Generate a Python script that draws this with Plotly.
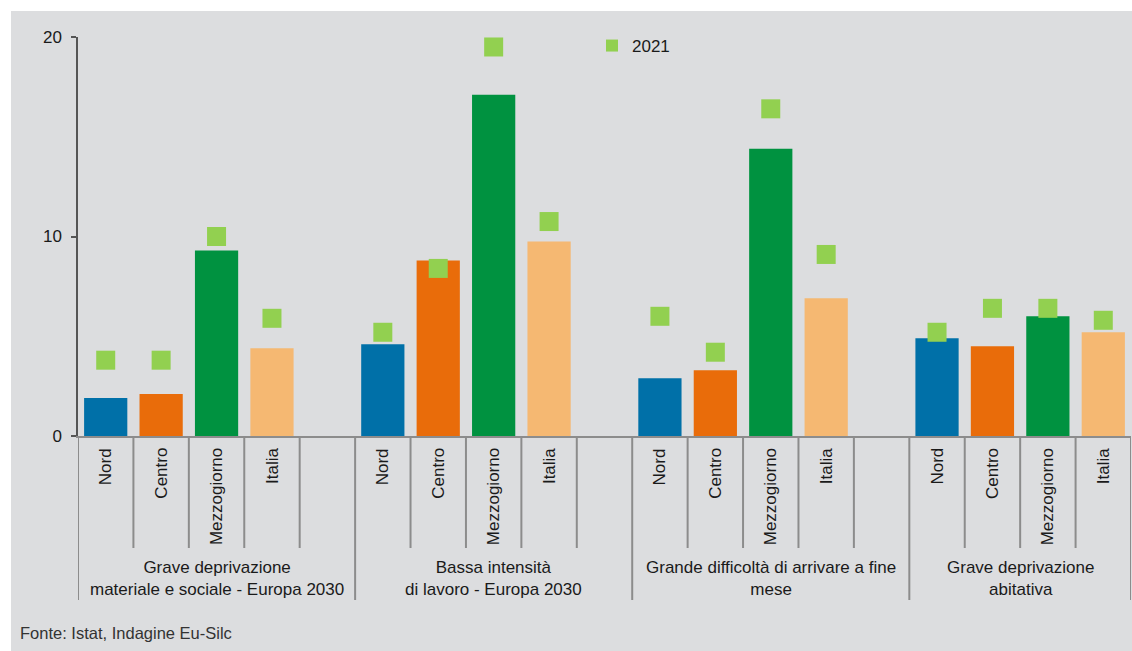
import plotly.graph_objects as go

# ---- data ----
groups = [
    "Grave deprivazione<br>materiale e sociale - Europa 2030",
    "Bassa intensità<br>di lavoro - Europa 2030",
    "Grande difficoltà di arrivare a fine<br>mese",
    "Grave deprivazione<br>abitativa",
]
regions = ["Nord", "Centro", "Mezzogiorno", "Italia"]
region_colors = ["#0070a8", "#e96c0a", "#009240", "#f5b872"]

# 2022 (bars) per group, order of regions
nord_2022 = [1.9, 4.6, 2.9, 4.9]
centro_2022 = [2.1, 8.8, 3.3, 4.5]
mezzogiorno_2022 = [9.3, 17.1, 14.4, 6.0]
italia_2022 = [4.4, 9.75, 6.9, 5.2]

# 2021 (markers)
nord_2021 = [3.8, 5.2, 6.0, 5.2]
centro_2021 = [3.8, 8.4, 4.2, 6.4]
mezzogiorno_2021 = [10.0, 19.5, 16.4, 6.4]
italia_2021 = [5.9, 10.75, 9.1, 5.8]

y_ticks = [0, 10, 20]

bars_by_region = [nord_2022, centro_2022, mezzogiorno_2022, italia_2022]
marks_by_region = [nord_2021, centro_2021, mezzogiorno_2021, italia_2021]

# ---- geometry (body margin removed via post_script) ----
PAGE_W, PAGE_H = 1132, 651
W, H = PAGE_W, PAGE_H
PLOT_L, PLOT_R, PLOT_T, PLOT_B = 78, 1131, 37, 436  # in page pixels
ML = PLOT_L
MT = PLOT_T
MR = W - PLOT_R
MB = H - PLOT_B
PW = W - ML - MR
PH = H - MT - MB
SLOTS = 5
n_groups = len(groups)
n_slots_total = SLOTS * (n_groups - 1) + len(regions)


def px_to_paper_x(px):
    return (px - PLOT_L) / PW


def px_to_paper_y(py):
    return (PLOT_B - py) / PH


def pos(g, i):
    return g * SLOTS + i


fig = go.Figure()

for ri, reg in enumerate(regions):
    fig.add_trace(go.Bar(
        x=[pos(g, ri) for g in range(n_groups)],
        y=bars_by_region[ri],
        width=0.78,
        marker=dict(color=region_colors[ri], line=dict(width=0)),
        name=reg,
        showlegend=False,
    ))

mx, my = [], []
for g in range(n_groups):
    for ri in range(len(regions)):
        mx.append(pos(g, ri))
        my.append(marks_by_region[ri][g])
fig.add_trace(go.Scatter(
    x=mx, y=my, mode="markers", name="2021",
    marker=dict(symbol="square", size=19, color="#92d050", line=dict(width=0)),
))

shapes = []
# gray background panel
shapes.append(dict(type="rect", xref="paper", yref="paper",
                   x0=px_to_paper_x(11), x1=px_to_paper_x(PAGE_W + 5),
                   y0=px_to_paper_y(PAGE_H + 5), y1=px_to_paper_y(11),
                   fillcolor="#dcdddf", line=dict(width=0), layer="below"))

div_color = "#8c8c8c"
inner_bottom = px_to_paper_y(548)
group_bottom = px_to_paper_y(600)
for k in range(n_slots_total + 1):
    xk = k - 0.5
    is_group = (k % SLOTS == 0) or (k == n_slots_total)
    shapes.append(dict(type="line", xref="x", yref="paper",
                       x0=xk, x1=xk, y0=0,
                       y1=group_bottom if is_group else inner_bottom,
                       line=dict(color=div_color, width=2)))

annotations = []
txt_color = "#1a1a1a"
font_family = "Liberation Sans, Arial, sans-serif"
for g in range(n_groups):
    for ri, reg in enumerate(regions):
        annotations.append(dict(
            x=pos(g, ri), y=0, xref="x", yref="paper",
            yshift=-10, text=reg, textangle=-90,
            xanchor="center", yanchor="top", showarrow=False,
            font=dict(size=17, color=txt_color, family=font_family)))
    last = SLOTS - 1 if g < n_groups - 1 else len(regions) - 1
    center = (pos(g, 0) - 0.5 + pos(g, last) + 0.5) / 2
    annotations.append(dict(
        x=center, y=px_to_paper_y(578), xref="x", yref="paper",
        text=groups[g], xanchor="center", yanchor="middle", showarrow=False,
        font=dict(size=17, color=txt_color, family=font_family)))

annotations.append(dict(
    x=px_to_paper_x(18), y=px_to_paper_y(633), xref="paper", yref="paper",
    text="Fonte: Istat, Indagine Eu-Silc", xanchor="left", yanchor="middle",
    showarrow=False, font=dict(size=16.5, color="#333333", family=font_family)))

fig.update_layout(
    width=W, height=H,
    margin=dict(l=ML, r=MR, t=MT, b=MB, pad=0),
    paper_bgcolor="white",
    plot_bgcolor="rgba(0,0,0,0)",
    barmode="overlay",
    font=dict(family=font_family, size=17, color=txt_color),
    shapes=shapes,
    annotations=annotations,
    showlegend=True,
    legend=dict(x=px_to_paper_x(592), y=px_to_paper_y(46), xanchor="left",
                yanchor="middle", bgcolor="rgba(0,0,0,0)", itemsizing="constant",
                font=dict(size=17, color=txt_color, family=font_family)),
    xaxis=dict(range=[-0.5, n_slots_total - 0.5], showticklabels=False,
               showgrid=False, zeroline=False, showline=True,
               linecolor=div_color, linewidth=2, ticks=""),
    yaxis=dict(range=[0, 20], tickvals=y_ticks, showgrid=False, zeroline=False,
               showline=True, linecolor="#555555", linewidth=1.5,
               ticks="outside", ticklen=5, tickwidth=1.5, tickcolor="#555555",
               tickfont=dict(size=17, color=txt_color), ticklabelstandoff=6),
)

fig.write_html("out.html",
               config={"displayModeBar": False},
               post_script="document.body.style.margin='0';document.body.style.overflow='hidden';")
